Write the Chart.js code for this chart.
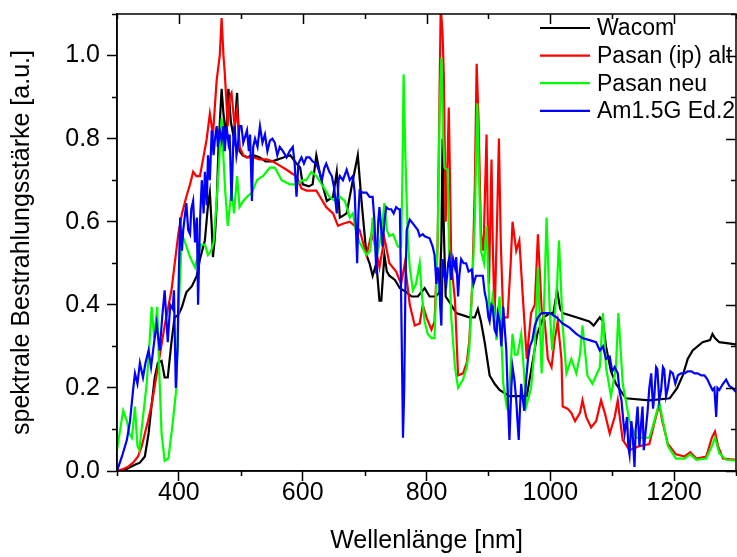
<!DOCTYPE html>
<html>
<head>
<meta charset="utf-8">
<script src="https://cdn.jsdelivr.net/npm/chart.js@4.4.0/dist/chart.umd.min.js"></script>
<style>
  html, body { margin: 0; padding: 0; background: #fff; }
</style>
</head>
<body>
<canvas id="chart-spektrum" width="737" height="557"></canvas>
<script>
(function () {
    'use strict';

    // Wellenlängen [nm] und Werte [a.u.] je Messreihe
    const wacomWl = [
        300,313,329,337,345,351,356,361,366,372,
        377,382,388,393,399,405,412,421,429,434,
        442,447,450,453,455,458,461,464,469,472,
        476,480,484,489,494,498,503,510,520,530,
        540,550,560,570,580,590,596,600,610,616,
        622,630,639,649,655,660,671,681,689,695,
        703,708,713,719,724,727,732,736,740,749,
        757,768,776,786,797,805,815,821,824,826,
        828,831,840,848,869,878,883,888,894,902,
        910,918,934,962,970,979,989,1000,1005,1011,
        1016,1020,1042,1063,1070,1080,1085,1090,1098,1106,
        1122,1160,1193,1205,1214,1222,1230,1246,1258,1262,
        1266,1273,1300
    ];
    const wacomVal = [
        0,0.003,0.015,0.02,0.035,0.09,0.16,0.225,0.26,0.265,
        0.225,0.225,0.31,0.37,0.375,0.395,0.43,0.445,0.47,0.51,
        0.555,0.64,0.67,0.59,0.515,0.56,0.64,0.78,0.92,0.86,
        0.80,0.92,0.84,0.80,0.91,0.77,0.76,0.755,0.76,0.755,
        0.745,0.745,0.75,0.755,0.76,0.74,0.73,0.69,0.685,0.69,
        0.76,0.70,0.65,0.66,0.72,0.61,0.62,0.70,0.76,0.65,
        0.52,0.50,0.47,0.50,0.41,0.41,0.52,0.48,0.47,0.46,
        0.44,0.43,0.42,0.42,0.44,0.42,0.42,0.43,0.55,0.80,
        0.58,0.42,0.40,0.38,0.37,0.37,0.39,0.36,0.31,0.23,
        0.21,0.195,0.18,0.18,0.25,0.33,0.37,0.38,0.38,0.435,
        0.39,0.38,0.37,0.36,0.35,0.37,0.36,0.30,0.24,0.21,
        0.175,0.17,0.175,0.2,0.23,0.27,0.29,0.31,0.315,0.33,
        0.32,0.31,0.305
    ];

    const pasanAltWl = [
        300,310,318,326,334,340,345,350,356,366,
        377,388,399,405,412,418,423,428,434,439,
        445,450,455,461,466,469,472,474,479,482,
        485,490,494,498,504,510,520,530,542,552,
        563,574,584,590,598,606,616,622,628,638,
        649,657,665,676,684,692,703,711,716,724,
        732,740,751,759,765,773,781,789,794,800,
        808,813,818,821,823,826,828,831,834,836,
        838,840,846,851,859,865,869,874,878,881,
        884,888,892,897,899,901,903,905,907,910,
        914,917,920,924,931,936,939,945,950,956,
        962,969,975,980,986,991,996,1002,1007,1012,
        1018,1020,1028,1034,1040,1048,1052,1058,1066,1074,
        1082,1088,1096,1104,1109,1113,1117,1128,1144,1160,
        1168,1176,1181,1190,1203,1217,1226,1236,1252,1261,
        1266,1271,1279,1300
    ];
    const pasanAltVal = [
        0,0.005,0.01,0.02,0.035,0.06,0.09,0.12,0.16,0.25,
        0.35,0.435,0.57,0.62,0.66,0.69,0.72,0.71,0.71,0.75,
        0.80,0.86,0.81,0.94,1.0,1.09,1.0,0.96,0.83,0.90,
        0.91,0.83,0.87,0.78,0.76,0.755,0.755,0.75,0.75,0.745,
        0.735,0.725,0.715,0.71,0.68,0.675,0.675,0.675,0.66,0.635,
        0.62,0.59,0.595,0.60,0.59,0.58,0.52,0.57,0.55,0.49,
        0.56,0.50,0.48,0.45,0.50,0.40,0.35,0.355,0.40,0.37,
        0.34,0.36,0.55,0.9,1.12,1.05,0.95,0.6,0.75,0.875,
        0.7,0.5,0.41,0.23,0.235,0.26,0.31,0.45,0.68,0.98,
        0.85,0.57,0.53,0.81,0.6,0.45,0.60,0.75,0.55,0.37,
        0.6,0.80,0.55,0.37,0.37,0.5,0.60,0.53,0.555,0.41,
        0.27,0.38,0.40,0.57,0.39,0.36,0.27,0.25,0.315,0.36,
        0.27,0.155,0.15,0.14,0.12,0.14,0.17,0.13,0.105,0.12,
        0.17,0.14,0.09,0.13,0.17,0.12,0.075,0.05,0.06,0.065,
        0.115,0.16,0.12,0.065,0.04,0.035,0.045,0.03,0.035,0.08,
        0.095,0.06,0.03,0.027
    ];

    const pasanNeuWl = [
        300,303,310,316,320,324,329,333,336,342,
        348,353,356,360,365,368,372,377,383,390,
        396,399,405,410,418,426,431,436,442,447,
        452,456,461,466,469,471,475,479,485,489,
        494,498,504,510,518,526,536,547,555,566,
        579,590,600,606,614,622,633,643,652,660,
        668,676,681,687,692,703,709,713,716,719,
        727,732,736,740,746,754,759,761,763,766,
        770,773,778,783,789,792,797,802,808,813,
        818,821,824,827,829,834,837,840,846,851,
        859,865,869,874,878,882,885,888,893,897,
        902,907,913,918,924,929,934,939,943,947,
        953,957,961,969,975,980,986,990,994,999,
        1003,1007,1011,1014,1020,1026,1034,1042,1048,1052,
        1060,1068,1080,1085,1090,1098,1106,1110,1117,1128,
        1139,1160,1168,1176,1182,1190,1203,1217,1226,1236,
        1252,1261,1266,1273,1284,1300
    ];
    const pasanNeuVal = [
        0.05,0.08,0.145,0.12,0.09,0.08,0.155,0.06,0.05,0.13,
        0.21,0.32,0.395,0.32,0.395,0.25,0.09,0.025,0.03,0.115,
        0.2,0.37,0.57,0.55,0.515,0.49,0.52,0.545,0.545,0.52,
        0.53,0.55,0.65,0.77,0.85,0.78,0.67,0.59,0.68,0.62,
        0.71,0.635,0.65,0.66,0.67,0.70,0.71,0.73,0.73,0.70,
        0.69,0.69,0.70,0.70,0.72,0.71,0.685,0.66,0.65,0.66,
        0.65,0.61,0.62,0.57,0.55,0.52,0.53,0.61,0.55,0.51,
        0.57,0.645,0.58,0.565,0.57,0.54,0.54,0.7,0.955,0.75,
        0.55,0.49,0.435,0.45,0.50,0.43,0.36,0.33,0.32,0.32,
        0.55,0.85,0.995,0.8,0.73,0.725,0.5,0.37,0.25,0.20,
        0.22,0.25,0.29,0.45,0.6,0.885,0.7,0.53,0.5,0.59,
        0.37,0.42,0.315,0.42,0.21,0.16,0.2,0.33,0.28,0.28,
        0.33,0.25,0.155,0.20,0.3,0.49,0.235,0.4,0.61,0.39,
        0.29,0.37,0.45,0.555,0.35,0.235,0.27,0.235,0.28,0.35,
        0.23,0.21,0.25,0.38,0.25,0.18,0.25,0.38,0.21,0.12,
        0.08,0.08,0.12,0.165,0.12,0.06,0.03,0.03,0.04,0.027,
        0.03,0.06,0.08,0.043,0.027,0.025
    ];

    const am15Wl = [
        300,308,316,321,326,329,333,337,342,346,
        351,355,360,364,369,373,377,382,386,390,
        392,395,398,399,402,405,407,412,415,418,
        420,423,426,429,431,434,437,440,442,445,
        447,450,453,456,458,461,463,466,469,472,
        474,477,480,482,485,488,490,493,495,498,
        501,504,506,510,513,515,518,520,523,527,
        531,535,539,543,547,551,555,559,563,568,
        574,579,584,587,590,593,598,602,606,611,
        616,622,627,631,635,638,643,647,651,655,
        658,660,665,671,676,681,684,688,690,692,
        697,703,708,713,716,719,722,724,727,729,
        732,735,739,743,747,751,755,757,759,761,
        762,764,766,768,773,781,786,789,794,797,
        805,810,813,816,818,821,822,824,826,829,
        832,835,837,840,843,846,848,851,853,856,
        860,864,868,873,876,880,886,891,894,897,
        900,902,905,907,910,913,915,918,921,924,
        927,929,932,934,937,939,942,945,947,949,
        951,953,955,958,961,964,967,971,975,980,
        986,999,1010,1020,1031,1042,1052,1063,1074,1080,
        1085,1090,1096,1100,1104,1109,1112,1115,1118,1120,
        1124,1126,1128,1131,1133,1136,1138,1141,1144,1147,
        1149,1151,1153,1157,1160,1163,1166,1168,1171,1173,
        1176,1179,1182,1184,1187,1190,1194,1198,1202,1206,
        1211,1217,1222,1228,1233,1238,1244,1249,1254,1257,
        1262,1265,1268,1270,1273,1279,1284,1289,1294,1300
    ];
    const am15Val = [
        0.0,0.035,0.075,0.12,0.195,0.235,0.21,0.26,0.225,0.26,
        0.29,0.25,0.31,0.355,0.29,0.37,0.435,0.31,0.40,0.39,
        0.435,0.2,0.3,0.41,0.61,0.53,0.58,0.645,0.58,0.57,
        0.63,0.65,0.55,0.61,0.40,0.60,0.70,0.62,0.72,0.64,
        0.76,0.70,0.82,0.76,0.795,0.83,0.78,0.82,0.795,0.83,
        0.77,0.83,0.79,0.81,0.65,0.8,0.83,0.76,0.78,0.83,
        0.83,0.79,0.80,0.82,0.77,0.81,0.65,0.78,0.80,0.78,
        0.83,0.79,0.81,0.77,0.795,0.80,0.79,0.76,0.78,0.77,
        0.755,0.77,0.78,0.74,0.66,0.74,0.755,0.74,0.755,0.755,
        0.745,0.74,0.72,0.70,0.73,0.74,0.72,0.71,0.68,0.62,
        0.70,0.71,0.70,0.725,0.70,0.71,0.67,0.50,0.62,0.675,
        0.67,0.67,0.66,0.66,0.6,0.475,0.6,0.635,0.58,0.54,
        0.6,0.635,0.63,0.63,0.62,0.635,0.63,0.63,0.42,0.2,
        0.08,0.195,0.45,0.58,0.605,0.59,0.58,0.565,0.57,0.565,
        0.56,0.54,0.52,0.45,0.49,0.45,0.40,0.35,0.51,0.47,
        0.45,0.50,0.515,0.46,0.51,0.49,0.515,0.42,0.47,0.51,
        0.5,0.50,0.48,0.485,0.45,0.47,0.47,0.47,0.43,0.41,
        0.37,0.36,0.40,0.395,0.34,0.33,0.38,0.36,0.30,0.395,
        0.33,0.29,0.15,0.075,0.2,0.25,0.22,0.17,0.12,0.075,
        0.15,0.21,0.18,0.145,0.22,0.27,0.30,0.315,0.35,0.37,
        0.38,0.38,0.37,0.355,0.345,0.33,0.32,0.315,0.31,0.29,
        0.30,0.27,0.275,0.24,0.25,0.235,0.19,0.17,0.12,0.09,
        0.13,0.06,0.04,0.12,0.09,0.01,0.10,0.155,0.06,0.12,
        0.155,0.05,0.08,0.14,0.2,0.235,0.15,0.18,0.25,0.245,
        0.17,0.195,0.25,0.245,0.18,0.20,0.24,0.235,0.21,0.23,
        0.235,0.235,0.24,0.24,0.235,0.235,0.23,0.23,0.22,0.21,
        0.195,0.2,0.13,0.2,0.195,0.21,0.22,0.205,0.2,0.19
    ];

    const seriesLabels = ['Wacom', 'Pasan (ip) alt', 'Pasan neu', 'Am1.5G Ed.2'];
    const seriesColors = ['#000000', '#ff0000', '#00ff00', '#0000ff'];

    const xMin = 300, xMax = 1300, xMajor = 200, xMinor = 100;
    const yMin = 0, yMax = 1.1;

    const FONT = "'Liberation Sans', Arial, sans-serif";

    function toPoints(wl, val) {
        return wl.map((w, i) => ({ x: w, y: val[i] }));
    }

    const isMajorX = v => Math.round(v) % xMajor === 0;
    const isMajorY = v => Math.round(v * 10) % 2 === 0;

    // Rahmen, Nebenstriche und gespiegelte Striche oben/rechts
    const framePlugin = {
        id: 'frame',
        afterDraw(chart) {
            const { ctx, chartArea: a, scales } = chart;
            ctx.save();
            ctx.strokeStyle = '#000';
            ctx.lineWidth = 1.5;
            ctx.strokeRect(a.left, a.top, a.right - a.left, a.bottom - a.top);
            ctx.beginPath();
            scales.x.ticks.forEach(t => {
                const px = Math.round(scales.x.getPixelForValue(t.value)) + 0.5;
                const major = isMajorX(t.value);
                const len = major ? 10 : 5;
                ctx.moveTo(px, a.top);
                ctx.lineTo(px, a.top + len);
                if (!major) {
                    ctx.moveTo(px, a.bottom);
                    ctx.lineTo(px, a.bottom + 5);
                }
            });
            scales.y.ticks.forEach(t => {
                const py = Math.round(scales.y.getPixelForValue(t.value)) + 0.5;
                const major = isMajorY(t.value);
                const len = major ? 10 : 5;
                ctx.moveTo(a.right, py);
                ctx.lineTo(a.right - len, py);
                if (!major) {
                    ctx.moveTo(a.left, py);
                    ctx.lineTo(a.left - 5, py);
                }
            });
            ctx.stroke();
            ctx.restore();
        }
    };

    // Legende oben rechts im Diagramm
    const legendPlugin = {
        id: 'innerLegend',
        afterDraw(chart) {
            const { ctx, chartArea: a } = chart;
            ctx.save();
            ctx.font = '23px ' + FONT;
            ctx.textBaseline = 'middle';
            ctx.textAlign = 'left';
            chart.data.datasets.forEach((ds, i) => {
                const y = a.top + 14 + i * 27.6;
                ctx.strokeStyle = ds.borderColor;
                ctx.lineWidth = 2.2;
                ctx.beginPath();
                ctx.moveTo(a.right - 196, y);
                ctx.lineTo(a.right - 146, y);
                ctx.stroke();
                ctx.fillStyle = '#000';
                ctx.fillText(ds.label, a.right - 139, y + 1);
            });
            ctx.restore();
        }
    };

    function renderChart() {
        const cvs = document.getElementById('chart-spektrum');
        if (!cvs || !window.Chart) return;

        const series = [
            [wacomWl, wacomVal],
            [pasanAltWl, pasanAltVal],
            [pasanNeuWl, pasanNeuVal],
            [am15Wl, am15Val]
        ];

        new Chart(cvs, {
            type: 'line',
            data: {
                datasets: series.map((s, i) => ({
                    label: seriesLabels[i],
                    data: toPoints(s[0], s[1]),
                    borderColor: seriesColors[i],
                    backgroundColor: seriesColors[i],
                    borderWidth: 2.2,
                    pointRadius: 0,
                    tension: 0,
                    fill: false,
                    order: 3 - i
                }))
            },
            options: {
                responsive: false,
                animation: false,
                devicePixelRatio: 1,
                layout: { padding: { top: 14, right: 1, left: 0, bottom: 0 } },
                plugins: {
                    legend: { display: false },
                    tooltip: { enabled: false }
                },
                scales: {
                    x: {
                        type: 'linear',
                        min: xMin,
                        max: xMax,
                        ticks: {
                            stepSize: xMinor,
                            autoSkip: false,
                            maxRotation: 0,
                            includeBounds: false,
                            padding: -3,
                            color: '#000',
                            font: { family: FONT, size: 25 },
                            callback: v => (isMajorX(v) && v > xMin && v < xMax) ? String(v) : ''
                        },
                        grid: {
                            drawOnChartArea: false,
                            tickLength: 10,
                            tickWidth: 1.5,
                            tickColor: c => (c.tick && isMajorX(c.tick.value)) ? '#000' : 'rgba(0,0,0,0)'
                        },
                        border: { display: true, color: '#000', width: 1.5 },
                        title: {
                            display: true,
                            text: 'Wellenlänge [nm]',
                            color: '#000',
                            font: { family: FONT, size: 25 },
                            padding: { top: 0, bottom: 1 }
                        },
                        afterFit: s => {
                            s.height = 86;
                            s.paddingLeft = 0;
                            s.paddingRight = 0;
                        }
                    },
                    y: {
                        type: 'linear',
                        min: yMin,
                        max: yMax,
                        ticks: {
                            stepSize: 0.1,
                            autoSkip: false,
                            includeBounds: false,
                            padding: 7,
                            color: '#000',
                            font: { family: FONT, size: 25 },
                            callback: v => (isMajorY(v) && v <= 1.0001) ? v.toFixed(1) : ''
                        },
                        grid: {
                            drawOnChartArea: false,
                            tickLength: 10,
                            tickWidth: 1.5,
                            tickColor: c => (c.tick && isMajorY(c.tick.value)) ? '#000' : 'rgba(0,0,0,0)'
                        },
                        border: { display: true, color: '#000', width: 1.5 },
                        title: {
                            display: true,
                            text: 'spektrale Bestrahlungsstärke [a.u.]',
                            color: '#000',
                            font: { family: FONT, size: 25 },
                            padding: { top: 7, bottom: 0 }
                        },
                        afterFit: s => {
                            s.width = 117;
                            s.paddingTop = 0;
                            s.paddingBottom = 0;
                        }
                    }
                }
            },
            plugins: [framePlugin, legendPlugin]
        });
    }

    document.addEventListener('DOMContentLoaded', renderChart);
})();
</script>
</body>
</html>
